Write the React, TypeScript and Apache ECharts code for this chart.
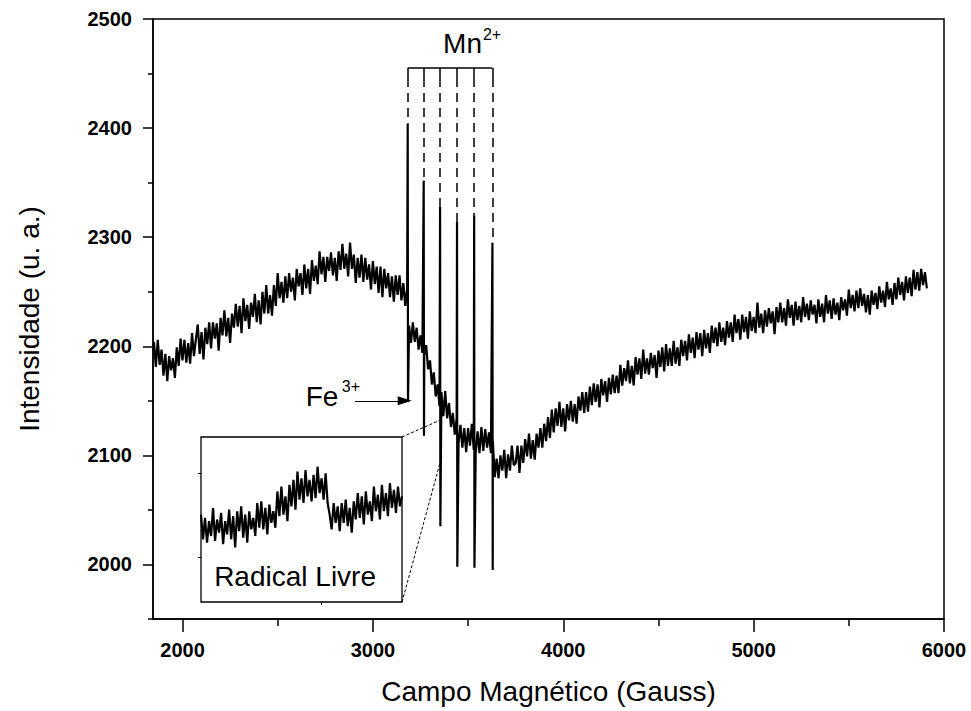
import React, { useEffect, useRef } from "react";
import * as echarts from "echarts";

const FONT = "'Liberation Sans', Arial, sans-serif";

// Main EPR spectrum: regular field grid (Gauss) and intensities
const fieldStart = 1850;
const fieldStep = 10;
const intensity = [
  2204, 2181, 2206, 2183, 2197, 2173, 2193, 2168, 2191, 2178,
  2189, 2171, 2199, 2182, 2207, 2187, 2206, 2185, 2203, 2184,
  2212, 2191, 2206, 2220, 2193, 2213, 2188, 2217, 2202, 2222,
  2198, 2222, 2207, 2221, 2196, 2226, 2210, 2233, 2209, 2226,
  2203, 2230, 2217, 2239, 2218, 2237, 2212, 2244, 2223, 2238,
  2216, 2240, 2227, 2248, 2222, 2242, 2220, 2250, 2230, 2256,
  2230, 2247, 2228, 2256, 2237, 2267, 2244, 2259, 2240, 2264,
  2244, 2267, 2250, 2263, 2242, 2271, 2255, 2267, 2247, 2275,
  2253, 2271, 2248, 2279, 2260, 2274, 2257, 2287, 2266, 2282,
  2259, 2282, 2269, 2286, 2265, 2281, 2260, 2287, 2270, 2294,
  2271, 2285, 2264, 2295, 2271, 2284, 2258, 2281, 2263, 2284,
  2259, 2281, 2261, 2275, 2252, 2278, 2257, 2273, 2249, 2273,
  2245, 2271, 2253, 2267, 2245, 2264, 2241, 2265, 2247, 2265,
  2242, 2258, 2237, 2253, 2219, 2203, 2222, 2204, 2217, 2197,
  2210, 2194, 2192, 2201, 2179, 2187, 2165, 2176, 2154, 2165,
  2145, 2158, 2136, 2159, 2134, 2148, 2126, 2139, 2119, 2134,
  2111, 2128, 2107, 2125, 2103, 2125, 2109, 2129, 2105, 2102,
  2122, 2102, 2126, 2104, 2124, 2107, 2121, 2102, 2113, 2080,
  2097, 2079, 2100, 2086, 2105, 2079, 2101, 2086, 2109, 2091,
  2093, 2109, 2084, 2109, 2093, 2115, 2099, 2120, 2097, 2114,
  2096, 2120, 2107, 2125, 2107, 2129, 2113, 2135, 2116, 2142,
  2121, 2143, 2127, 2149, 2126, 2143, 2122, 2147, 2132, 2150,
  2131, 2147, 2129, 2154, 2141, 2158, 2139, 2158, 2140, 2163,
  2146, 2166, 2149, 2165, 2144, 2170, 2155, 2168, 2149, 2171,
  2156, 2174, 2157, 2173, 2157, 2183, 2164, 2180, 2168, 2187,
  2166, 2182, 2164, 2190, 2174, 2189, 2170, 2197, 2175, 2189,
  2174, 2194, 2180, 2192, 2171, 2196, 2181, 2199, 2177, 2202,
  2182, 2198, 2182, 2205, 2184, 2199, 2182, 2206, 2191, 2205,
  2187, 2211, 2194, 2208, 2189, 2213, 2197, 2212, 2191, 2215,
  2198, 2212, 2194, 2219, 2203, 2217, 2200, 2222, 2204, 2217,
  2201, 2223, 2208, 2222, 2204, 2229, 2212, 2225, 2206, 2229,
  2213, 2227, 2207, 2232, 2214, 2227, 2212, 2240, 2217, 2230,
  2212, 2233, 2218, 2235, 2221, 2232, 2211, 2236, 2222, 2240,
  2222, 2235, 2219, 2243, 2226, 2238, 2219, 2241, 2224, 2237,
  2222, 2245, 2227, 2239, 2224, 2242, 2229, 2238, 2221, 2243,
  2227, 2239, 2222, 2247, 2230, 2242, 2225, 2244, 2229, 2240,
  2224, 2245, 2233, 2243, 2228, 2252, 2235, 2247, 2232, 2251,
  2235, 2253, 2237, 2248, 2231, 2247, 2229, 2251, 2238, 2249,
  2234, 2255, 2240, 2251, 2236, 2259, 2243, 2253, 2238, 2258,
  2243, 2263, 2247, 2259, 2242, 2264, 2249, 2263, 2246, 2270,
  2252, 2268, 2251, 2271, 2256, 2268, 2253,
];

// Mn2+ hyperfine sextet lines
const mnFields = [3183, 3267, 3353, 3442, 3532, 3628];
const mnTops = [2404, 2352, 2328, 2314, 2320, 2295];
const mnBottoms = [2149, 2118, 2035, 1998, 1997, 1995];
const bracketLevel = 2455;
const bracketTickEnd = 2446;

// Axes
const xRange = [1845, 6000];
const yRange = [1950, 2500];
const xTicks = [2000, 3000, 4000, 5000, 6000];
const xMinorTicks = [2500, 3500, 4500, 5500];
const yTicks = [2000, 2100, 2200, 2300, 2400, 2500];
const yMinorTicks = [1950, 2050, 2150, 2250, 2350, 2450];

// Inset ("Radical Livre") zoom
const insetStep = 1;
const insetValues = [
  53, 38, 51, 36, 49, 40, 57, 37, 50, 42,
  54, 35, 49, 41, 56, 38, 52, 33, 55, 43,
  58, 39, 53, 36, 55, 44, 51, 40, 60, 45,
  61, 44, 57, 41, 59, 48, 55, 45, 67, 52,
  70, 53, 64, 49, 71, 58, 74, 56, 79, 62,
  75, 60, 80, 64, 74, 61, 77, 63, 82, 66,
  75, 62, 78, 60, 53, 44, 60, 48, 58, 43,
  60, 48, 62, 46, 57, 42, 61, 50, 66, 51,
  64, 47, 67, 53, 61, 49, 70, 55, 65, 50,
  71, 55, 66, 52, 72, 57, 68, 54, 70, 58,
  64,
];
const insetRange = [0, 100];
const insetXTicks = [60];
const insetYTicks = [27, 78];
const zoomField = 3362;
const zoomUpper = 2133;
const zoomLower = 2099;

// Annotations (data coordinates)
const feArrowStart = [2906, 2150];
const feArrowEnd = [3167, 2150];
const mnLabelPos = [3471, 2478];
const mnSupPos = [3626, 2486];
const feLabelPos = [2733, 2154];
const feSupPos = [2885, 2163];
const radicalLabelPos = [46.8, 15.2];

export default function App() {
  const ref = useRef<HTMLDivElement>(null);

  useEffect(() => {
    document.body.style.margin = "0";
    document.body.style.overflow = "hidden";
    const el = ref.current;
    if (!el) return;
    const chart = echarts.init(el, null, { renderer: "svg" });

    const mainData: number[][] = intensity.map((v, i) => [fieldStart + i * fieldStep, v]);
    mnFields.forEach((g, i) => {
      mainData.push([g, mnTops[i]]);
      mainData.push([g + 1.5, mnBottoms[i]]);
    });
    mainData.sort((a, b) => a[0] - b[0]);

    const insetData = insetValues.map((v, i) => [insetRange[0] + i * insetStep, v]);

    const markLineData: any[] = [];
    markLineData.push([
      { coord: [mnFields[0], bracketLevel], lineStyle: { type: "solid", width: 1.5, color: "#000" } },
      { coord: [mnFields[mnFields.length - 1], bracketLevel] },
    ]);
    mnFields.forEach((g, i) => {
      markLineData.push([
        { coord: [g, bracketLevel], lineStyle: { type: "solid", width: 1.5, color: "#000" } },
        { coord: [g, bracketTickEnd] },
      ]);
      markLineData.push([
        { coord: [g, bracketTickEnd], lineStyle: { type: [9, 6], width: 1.5, color: "#000" } },
        { coord: [g, mnTops[i]] },
      ]);
    });
    markLineData.push([
      { coord: feArrowStart, lineStyle: { type: "solid", width: 1.2, color: "#000" } },
      { coord: feArrowEnd, symbol: "triangle", symbolSize: [9, 14] },
    ]);

    const axisLineStyle = { show: true, lineStyle: { color: "#000", width: 1.5 } };
    const plain = (v: number) => String(v);

    chart.setOption({
      animation: false,
      backgroundColor: "#fff",
      textStyle: { fontFamily: FONT, color: "#000" },
      grid: [
        { left: 153, top: 19, right: 27, bottom: 92, show: true, borderColor: "#000", borderWidth: 1.5, backgroundColor: "transparent" },
        { left: 201, top: 437, width: 201, height: 165, show: true, borderColor: "#000", borderWidth: 1.3, backgroundColor: "transparent" },
      ],
      xAxis: [
        {
          type: "value", gridIndex: 0, min: xRange[0], max: xRange[1], position: "bottom",
          axisLine: axisLineStyle,
          axisTick: { show: true, inside: false, length: 13, customValues: xTicks, lineStyle: { color: "#000", width: 1.5 } },
          axisLabel: { show: true, customValues: xTicks, formatter: plain, margin: 21, fontSize: 20, fontWeight: "bold", color: "#000", fontFamily: FONT },
          splitLine: { show: false },
          name: "Campo Magnético (Gauss)", nameLocation: "middle", nameGap: 58,
          nameTextStyle: { fontSize: 28, color: "#000", fontFamily: FONT },
        },
        {
          type: "value", gridIndex: 0, min: xRange[0], max: xRange[1], position: "bottom",
          axisLine: { show: false },
          axisTick: { show: true, inside: false, length: 7, customValues: xMinorTicks, lineStyle: { color: "#000", width: 1.5 } },
          axisLabel: { show: false },
          splitLine: { show: false },
        },
        {
          type: "value", gridIndex: 1, min: insetRange[0], max: insetRange[1],
          axisLine: { show: false },
          axisTick: { show: true, inside: false, length: 3, customValues: insetXTicks, lineStyle: { color: "#000", width: 1 } },
          axisLabel: { show: false },
          splitLine: { show: false },
        },
      ],
      yAxis: [
        {
          type: "value", gridIndex: 0, min: yRange[0], max: yRange[1], position: "left",
          axisLine: axisLineStyle,
          axisTick: { show: true, inside: false, length: 10, customValues: yTicks, lineStyle: { color: "#000", width: 1.5 } },
          axisLabel: { show: true, customValues: yTicks, formatter: plain, margin: 21, fontSize: 20, fontWeight: "bold", color: "#000", fontFamily: FONT },
          splitLine: { show: false },
          name: "Intensidade (u. a.)", nameLocation: "middle", nameGap: 110, nameRotate: 90,
          nameTextStyle: { fontSize: 28, color: "#000", fontFamily: FONT },
        },
        {
          type: "value", gridIndex: 0, min: yRange[0], max: yRange[1], position: "left",
          axisLine: { show: false },
          axisTick: { show: true, inside: false, length: 5, customValues: yMinorTicks, lineStyle: { color: "#000", width: 1.5 } },
          axisLabel: { show: false },
          splitLine: { show: false },
        },
        {
          type: "value", gridIndex: 1, min: insetRange[0], max: insetRange[1],
          axisLine: { show: false },
          axisTick: { show: true, inside: false, length: 3, customValues: insetYTicks, lineStyle: { color: "#000", width: 1 } },
          axisLabel: { show: false },
          splitLine: { show: false },
        },
      ],
      series: [
        {
          type: "line", xAxisIndex: 0, yAxisIndex: 0, data: mainData,
          showSymbol: false, symbol: "none", silent: true,
          lineStyle: { color: "#000", width: 2.2 },
          markLine: {
            silent: true, symbol: ["none", "none"], symbolSize: 8,
            label: { show: false }, emphasis: { disabled: true },
            data: markLineData,
          },
        },
        {
          type: "line", xAxisIndex: 2, yAxisIndex: 2, data: insetData,
          showSymbol: false, symbol: "none", silent: true,
          lineStyle: { color: "#000", width: 2.2 },
        },
      ],
    });

    const px = (s: number, v: number[]) => chart.convertToPixel({ seriesIndex: s }, v) as number[];
    const insetTR = px(1, [insetRange[1], insetRange[1]]);
    const insetBR = px(1, [insetRange[1], insetRange[0]]);
    const zU = px(0, [zoomField, zoomUpper]);
    const zL = px(0, [zoomField, zoomLower]);
    const mnP = px(0, mnLabelPos);
    const mnS = px(0, mnSupPos);
    const feP = px(0, feLabelPos);
    const feS = px(0, feSupPos);
    const radP = px(1, radicalLabelPos);

    const txt = (x: number, y: number, text: string, size: number) => ({
      type: "text", x, y, silent: true,
      style: {
        text, fill: "#000", fontSize: size, fontFamily: FONT,
        align: "center", verticalAlign: "middle", textAlign: "center", textVerticalAlign: "middle",
      },
    });
    const dashed = (a: number[], b: number[]) => ({
      type: "line", silent: true,
      shape: { x1: a[0], y1: a[1], x2: b[0], y2: b[1] },
      style: { stroke: "#000", lineWidth: 1, lineDash: [3, 2] },
    });

    chart.setOption({
      graphic: [
        dashed(insetTR, zU),
        dashed(insetBR, zL),
        txt(mnP[0], mnP[1], "Mn", 28),
        txt(mnS[0], mnS[1], "2+", 16),
        txt(feP[0], feP[1], "Fe", 28),
        txt(feS[0], feS[1], "3+", 16),
        txt(radP[0], radP[1], "Radical Livre", 28),
      ],
    });

    return () => chart.dispose();
  }, []);

  return <div ref={ref} style={{ width: 971, height: 711 }} />;
}
